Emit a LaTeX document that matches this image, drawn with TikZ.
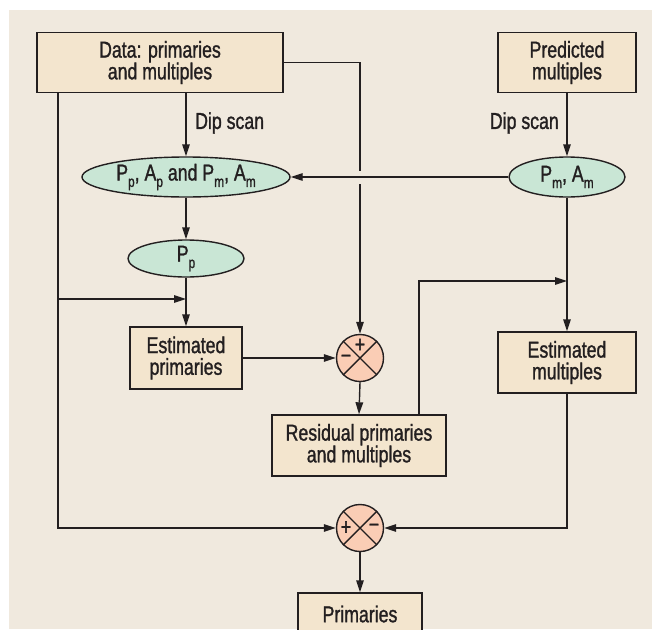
\documentclass[tikz,border=0pt]{standalone}
\usepackage{fontspec}
\setmainfont{Liberation Sans}[FakeStretch=0.77,FakeBold=1.2]
\usetikzlibrary{shapes.geometric,arrows.meta,calc}
\definecolor{bgc}{RGB}{240,233,222}
\definecolor{boxc}{RGB}{243,229,206}
\definecolor{ellc}{RGB}{201,230,213}
\definecolor{sumc}{RGB}{250,205,181}
\definecolor{ink}{RGB}{35,31,32}
\newcommand\sbs[1]{\raisebox{-0.28em}{\fontsize{15.5}{15.5}\selectfont #1}}
\tikzset{
  lbl/.style={font=\fontsize{23}{21.7}\selectfont, text=ink},
  boxnode/.style={lbl, draw=ink, line width=1.4pt, fill=boxc, inner sep=0pt, align=center},
  ellnode/.style={lbl, draw=ink, line width=1.4pt, fill=ellc, ellipse, inner sep=0pt},
  sumnode/.style={draw=ink, line width=1.4pt, fill=sumc, circle, inner sep=0pt, minimum size=47pt},
  sign/.style={font=\fontsize{23}{23}\selectfont, text=ink, inner sep=0pt},
  wire/.style={draw=ink, line width=1.4pt},
  arr/.style={wire, -{Triangle[length=12pt,width=7.5pt]}}
}
\begin{document}
\begin{tikzpicture}[x=1pt,y=-1pt]
\useasboundingbox (0,0) rectangle (652,629);
\fill[bgc] (9,10) rectangle (652,629);

\node[boxnode, minimum width=246pt, minimum height=60pt] (data) at (160,62.5) {Data: primaries\\and multiples};
\node[boxnode, minimum width=138pt, minimum height=60pt] (pred) at (567,62.5) {Predicted\\multiples};
\node[ellnode, minimum width=208pt, minimum height=40pt] (ell1) at (186,177) {\makebox[0pt]{P\sbs{p}, A\sbs{p} and P\sbs{m}, A\sbs{m}}};
\node[ellnode, minimum width=116pt, minimum height=40pt] (ell2) at (567,177) {\makebox[0pt]{P\sbs{m}, A\sbs{m}}};
\node[ellnode, minimum width=116pt, minimum height=37pt] (pp) at (186,258.5) {\makebox[0pt]{P\sbs{p}}};
\node[boxnode, minimum width=112pt, minimum height=62pt] (estp) at (186,358) {Estimated\\primaries};
\node[sumnode] (s1) at (360,358) {};
\node[boxnode, minimum width=174pt, minimum height=61pt] (resid) at (359,445.5) {Residual primaries\\and multiples};
\node[boxnode, minimum width=138pt, minimum height=61pt] (estm) at (567,362.5) {Estimated\\multiples};
\node[sumnode] (s2) at (360,528) {};
\node[boxnode, minimum width=124pt, minimum height=42pt] (prim) at (360,614) {Primaries};

% crosses and signs
\draw[wire] (s1.north west) -- (s1.south east) (s1.north east) -- (s1.south west);
\draw[wire] (s2.north west) -- (s2.south east) (s2.north east) -- (s2.south west);
\node[sign] (s1p) at (360,345.5) {+};
\node[sign] (s1m) at (346,359) {−};
\node[sign] (s2p) at (346,528) {+};
\node[sign] (s2m) at (374,528) {−};

% labels
\node[lbl, anchor=west, inner sep=0pt] (dip1) at (195,123) {Dip scan};
\node[lbl, anchor=east, inner sep=0pt] (dip2) at (559,123) {Dip scan};

% coordinates
\coordinate (gapA) at (360,171);
\coordinate (gapB) at (360,184);
\coordinate (lft) at (58,528);
\coordinate (br) at (58,299);
\coordinate (rr) at (419,281);

% connectors
\draw[arr] (data.south -| ell1.north) -- (ell1.north);
\draw[arr] (pred.south) -- (ell2.north);
\draw[arr] (ell2.west) -- (ell1.east);
\draw[wire] (data.east) -| (gapA);
\draw[arr] (gapB) -- (s1.north);
\draw[arr] (ell1.south) -- (pp.north);
\draw[arr] (pp.south) -- (estp.north);
\draw[arr] (data.south -| lft) -- (lft) -- (s2.west);
\draw[arr] (br) -- (br -| pp.south);
\draw[arr] (estp.east) -- (s1.west);
\draw[arr] (s1.south) -- (resid.north);
\draw[arr] (resid.north -| rr) -- (rr) -- (rr -| estm.north);
\draw[arr] (ell2.south) -- (estm.north);
\draw[arr] (estm.south) |- (s2.east);
\draw[arr] (s2.south) -- (prim.north);
\end{tikzpicture}
\end{document}
